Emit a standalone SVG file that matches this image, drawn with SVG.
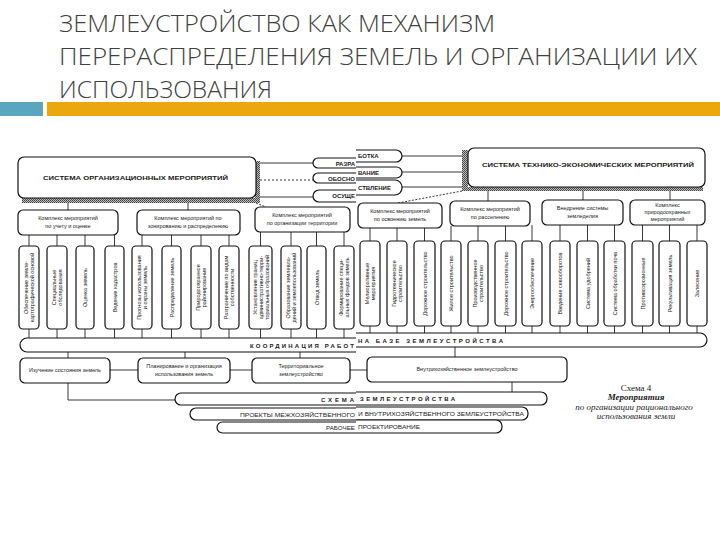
<svg xmlns="http://www.w3.org/2000/svg" width="720" height="540" viewBox="0 0 720 540">
<defs>
<style>
.b{fill:#fff;stroke:#111;stroke-width:1.2}
.c{stroke:#222;stroke-width:0.9;fill:none}
.t{font-family:"Liberation Sans",Arial,sans-serif;font-size:5.5px;fill:#1a1a1a;text-anchor:middle}
.h{font-weight:bold;font-size:6px}
.l{text-anchor:start}
.e{text-anchor:end}
.ttl{font-family:"Open Sans","Liberation Sans",sans-serif;font-size:24px;fill:#404040;font-weight:300}
.cap{font-family:"Liberation Serif","Times New Roman",serif;font-size:9px;fill:#222;text-anchor:middle}
</style>
<pattern id="hatch" patternUnits="userSpaceOnUse" width="2" height="2">
<rect width="2" height="2" fill="#bbb"/>
<rect width="1" height="1" fill="#444"/>
<rect x="1" y="1" width="1" height="1" fill="#555"/>
</pattern>
<clipPath id="cl"><rect x="0" y="0" width="356" height="540"/></clipPath>
<clipPath id="cr"><rect x="356" y="0" width="364" height="540"/></clipPath>
</defs>
<rect width="720" height="540" fill="#fff"/>

<g id="title">
<text class="ttl" x="59" y="32" textLength="436" lengthAdjust="spacingAndGlyphs">ЗЕМЛЕУСТРОЙСТВО КАК МЕХАНИЗМ</text>
<text class="ttl" x="59" y="65" textLength="638" lengthAdjust="spacingAndGlyphs">ПЕРЕРАСПРЕДЕЛЕНИЯ ЗЕМЕЛЬ И ОРГАНИЗАЦИИ ИХ</text>
<text class="ttl" x="59" y="98" textLength="213" lengthAdjust="spacingAndGlyphs">ИСПОЛЬЗОВАНИЯ</text>
<rect x="0" y="102" width="43" height="14" fill="#5aa6c0"/>
<rect x="47" y="102" width="673" height="14" fill="#eba70e"/>
</g>

<g id="connectors">
<line class="c" x1="258" y1="163" x2="313" y2="163"/>
<line class="c" x1="260" y1="180" x2="313" y2="180" stroke-dasharray="2,2"/>
<line class="c" x1="260" y1="197" x2="313" y2="197"/>
<line class="c" x1="402" y1="156" x2="462" y2="156"/>
<line class="c" x1="402" y1="172" x2="462" y2="172"/>
<line class="c" x1="402" y1="187" x2="462" y2="187"/>
<line class="c" x1="68" y1="203" x2="68" y2="210"/>
<line class="c" x1="188" y1="203" x2="188" y2="210"/>
<line class="c" x1="256" y1="203" x2="266" y2="207" stroke-dasharray="2,1.5"/>
<line class="c" x1="462" y1="191" x2="398" y2="203" stroke-dasharray="2,1.5"/>
<line class="c" x1="488" y1="191" x2="488" y2="201"/>
<line class="c" x1="583" y1="191" x2="583" y2="200"/>
<line class="c" x1="670" y1="191" x2="670" y2="200"/>
<path class="c" d="M29 235V246M57 235V246M85 235V246M114.5 235V246M142 235V246M171.5 235V246M201 235V246M229 235V246M260.5 232V246M291 232V246M316.5 232V246M344 232V246"/>
<path class="c" d="M29 329V338M57 329V338M85 329V338M114.5 329V338M142 329V338M171.5 329V338M201 329V338M229 329V338M260.5 329V338M291 329V338M316.5 329V338M344 329V338"/>
<path class="c" d="M370 228V241M397 228V241M424.5 228V241M451 226V241M478 226V241M505.5 226V241M532 225V241M560 225V241M587.5 225V241M614.5 225V241M642.5 225V241M669.5 225V241M697 225V241"/>
<path class="c" d="M370 326V333M397 326V333M424.5 326V333M451 326V333M478 326V333M505.5 326V333M532 326V333M560 326V333M587.5 326V333M614.5 326V333M642.5 326V333M669.5 326V333M697 326V333"/>
<path class="c" d="M68 352V358M185 352V358M300 352V358M455 347V357"/>
<path class="c" d="M110 370H138M230 370H252M350 370H367"/>
<path class="c" d="M68 383V400H175M512 382V392"/>
</g>

<g id="org-system">
<rect x="22" y="198" width="238" height="5" fill="url(#hatch)"/>
<rect x="255" y="161" width="5" height="42" fill="url(#hatch)"/>
<rect class="b" x="18" y="157" width="238" height="41" rx="6"/>
<text class="t h" x="43" y="180" textLength="185" lengthAdjust="spacingAndGlyphs" style="text-anchor:start">СИСТЕМА ОРГАНИЗАЦИОННЫХ МЕРОПРИЯТИЙ</text>
</g>

<g id="tech-system">
<rect x="462" y="150" width="6" height="41" fill="url(#hatch)"/>
<rect x="462" y="187" width="241" height="4" fill="url(#hatch)"/>
<rect class="b" x="468" y="148" width="237" height="39" rx="6"/>
<text class="t h" x="482" y="167" textLength="212" lengthAdjust="spacingAndGlyphs" style="text-anchor:start">СИСТЕМА ТЕХНИКО-ЭКОНОМИЧЕСКИХ МЕРОПРИЯТИЙ</text>
</g>

<g id="pills-left" clip-path="url(#cl)">
<rect class="b" x="313" y="158" width="80" height="10" rx="5"/>
<rect class="b" x="313" y="173" width="80" height="10" rx="5"/>
<rect class="b" x="313" y="190" width="80" height="12" rx="6"/>
<text class="t h e" x="355" y="165.5">РАЗРА</text>
<text class="t h e" x="355" y="180.5">ОБОСНО</text>
<text class="t h e" x="355" y="198">ОСУЩЕ</text>
</g>
<g id="pills-right" clip-path="url(#cr)">
<rect class="b" x="320" y="150" width="82" height="12" rx="6"/>
<rect class="b" x="320" y="167" width="82" height="11" rx="5.5"/>
<rect class="b" x="320" y="180" width="82" height="15" rx="7"/>
<text class="t h l" x="358" y="158">БОТКА</text>
<text class="t h l" x="358" y="174.5">ВАНИЕ</text>
<text class="t h l" x="358" y="189.5">СТВЛЕНИЕ</text>
</g>

<g id="sub-accounting">
<rect class="b" x="18" y="210" width="100" height="25" rx="5"/>
<text class="t" x="68" y="220">Комплекс мероприятий</text>
<text class="t" x="68" y="228">по учету и оценке</text>
</g>
<g id="sub-zoning">
<rect class="b" x="137" y="210" width="103" height="25" rx="5"/>
<text class="t" x="188" y="220">Комплекс мероприятий по</text>
<text class="t" x="188" y="228">зонированию и распределению</text>
</g>
<g id="sub-territory">
<rect class="b" x="255" y="207" width="95" height="25" rx="5"/>
<text class="t" x="302" y="217">Комплекс мероприятий</text>
<text class="t" x="302" y="225">по организации территории</text>
</g>
<g id="sub-development">
<rect class="b" x="358" y="203" width="84" height="25" rx="5"/>
<text class="t" x="400" y="213">Комплекс мероприятий</text>
<text class="t" x="400" y="221">по освоению земель</text>
</g>
<g id="sub-settlement">
<rect class="b" x="450" y="201" width="80" height="25" rx="5"/>
<text class="t" x="490" y="211">Комплекс мероприятий</text>
<text class="t" x="490" y="219">по расселению</text>
</g>
<g id="sub-farming">
<rect class="b" x="542" y="200" width="81" height="25" rx="5"/>
<text class="t" x="582.5" y="210">Внедрение системы</text>
<text class="t" x="582.5" y="218">земледелия</text>
</g>
<g id="sub-nature">
<rect class="b" x="630" y="200" width="75" height="25" rx="5"/>
<text class="t" x="667.5" y="207">Комплекс</text>
<text class="t" x="667.5" y="214">природоохранных</text>
<text class="t" x="667.5" y="221">мероприятий</text>
</g>

<g id="v-left">
<g id="vl1"><rect class="b" x="19" y="246" width="20" height="83" rx="4"/><g transform="translate(29 287.5) rotate(-90)"><text class="t" y="-1">Обеспечение земле-</text><text class="t" y="5">картографической основой</text></g></g>
<g id="vl2"><rect class="b" x="47" y="246" width="20" height="83" rx="4"/><g transform="translate(57 287.5) rotate(-90)"><text class="t" y="-1">Специальные</text><text class="t" y="5">обследования</text></g></g>
<g id="vl3"><rect class="b" x="76" y="246" width="18" height="83" rx="4"/><g transform="translate(85 287.5) rotate(-90)"><text class="t" y="2">Оценка земель</text></g></g>
<g id="vl4"><rect class="b" x="105" y="246" width="19" height="83" rx="4"/><g transform="translate(114.5 287.5) rotate(-90)"><text class="t" y="2">Ведение кадастров</text></g></g>
<g id="vl5"><rect class="b" x="132" y="246" width="20" height="83" rx="4"/><g transform="translate(142 287.5) rotate(-90)"><text class="t" y="-1">Прогнозы использования</text><text class="t" y="5">и охраны земель</text></g></g>
<g id="vl6"><rect class="b" x="162" y="246" width="19" height="83" rx="4"/><g transform="translate(171.5 287.5) rotate(-90)"><text class="t" y="2">Распределение земель</text></g></g>
<g id="vl7"><rect class="b" x="191" y="246" width="20" height="83" rx="4"/><g transform="translate(201 287.5) rotate(-90)"><text class="t" y="-1">Природоохранное</text><text class="t" y="5">районирование</text></g></g>
<g id="vl8"><rect class="b" x="219" y="246" width="20" height="83" rx="4"/><g transform="translate(229 287.5) rotate(-90)"><text class="t" y="-1">Разграничение по видам</text><text class="t" y="5">собственности</text></g></g>
<g id="vl9"><rect class="b" x="249" y="246" width="23" height="83" rx="4"/><g transform="translate(260.5 287.5) rotate(-90)"><text class="t" y="-4">Установление границ</text><text class="t" y="2">административно-терри-</text><text class="t" y="8">ториальных образований</text></g></g>
<g id="vl10"><rect class="b" x="281" y="246" width="20" height="83" rx="4"/><g transform="translate(291 287.5) rotate(-90)"><text class="t" y="-1">Образование землевла-</text><text class="t" y="5">дений и землепользований</text></g></g>
<g id="vl11"><rect class="b" x="307" y="246" width="19" height="83" rx="4"/><g transform="translate(316.5 287.5) rotate(-90)"><text class="t" y="2">Отвод земель</text></g></g>
<g id="vl12"><rect class="b" x="334" y="246" width="20" height="83" rx="4"/><g transform="translate(344 287.5) rotate(-90)"><text class="t" y="-1">Формирование специ-</text><text class="t" y="5">альных фондов земель</text></g></g>
</g>

<g id="v-right">
<g id="vr1"><rect class="b" x="360" y="241" width="20" height="85" rx="4"/><g transform="translate(370 283.5) rotate(-90)"><text class="t" y="-1">Мелиоративные</text><text class="t" y="5">мероприятия</text></g></g>
<g id="vr2"><rect class="b" x="387" y="241" width="20" height="85" rx="4"/><g transform="translate(397 283.5) rotate(-90)"><text class="t" y="-1">Гидротехническое</text><text class="t" y="5">строительство</text></g></g>
<g id="vr3"><rect class="b" x="414" y="241" width="21" height="85" rx="4"/><g transform="translate(424.5 283.5) rotate(-90)"><text class="t" y="2">Дорожное строительство</text></g></g>
<g id="vr4"><rect class="b" x="441" y="241" width="20" height="85" rx="4"/><g transform="translate(451 283.5) rotate(-90)"><text class="t" y="2">Жилое строительство</text></g></g>
<g id="vr5"><rect class="b" x="468" y="241" width="20" height="85" rx="4"/><g transform="translate(478 283.5) rotate(-90)"><text class="t" y="-1">Производственное</text><text class="t" y="5">строительство</text></g></g>
<g id="vr6"><rect class="b" x="495" y="241" width="21" height="85" rx="4"/><g transform="translate(505.5 283.5) rotate(-90)"><text class="t" y="2">Дорожное строительство</text></g></g>
<g id="vr7"><rect class="b" x="522" y="241" width="20" height="85" rx="4"/><g transform="translate(532 283.5) rotate(-90)"><text class="t" y="2">Энергообеспечение</text></g></g>
<g id="vr8"><rect class="b" x="550" y="241" width="20" height="85" rx="4"/><g transform="translate(560 283.5) rotate(-90)"><text class="t" y="2">Введение севооборотов</text></g></g>
<g id="vr9"><rect class="b" x="577" y="241" width="21" height="85" rx="4"/><g transform="translate(587.5 283.5) rotate(-90)"><text class="t" y="2">Система удобрений</text></g></g>
<g id="vr10"><rect class="b" x="604" y="241" width="21" height="85" rx="4"/><g transform="translate(614.5 283.5) rotate(-90)"><text class="t" y="2">Система обработки почв</text></g></g>
<g id="vr11"><rect class="b" x="632" y="241" width="21" height="85" rx="4"/><g transform="translate(642.5 283.5) rotate(-90)"><text class="t" y="2">Противоэрозионные</text></g></g>
<g id="vr12"><rect class="b" x="659" y="241" width="21" height="85" rx="4"/><g transform="translate(669.5 283.5) rotate(-90)"><text class="t" y="2">Рекультивация земель</text></g></g>
<g id="vr13"><rect class="b" x="687" y="241" width="20" height="85" rx="4"/><g transform="translate(697 283.5) rotate(-90)"><text class="t" y="2">Залесение</text></g></g>
</g>

<g id="coord-left" clip-path="url(#cl)">
<rect class="b" x="20" y="338" width="380" height="14" rx="7"/>
<text class="t h l" x="250" y="347.5" textLength="104" lengthAdjust="spacing">КООРДИНАЦИЯ РАБОТ</text>
</g>
<g id="coord-right" clip-path="url(#cr)">
<rect class="b" x="320" y="333" width="387" height="14" rx="7"/>
<text class="t h l" x="358" y="342.5" textLength="145" lengthAdjust="spacing">НА БАЗЕ ЗЕМЛЕУСТРОЙСТВА</text>
</g>

<g id="study">
<rect class="b" x="20" y="358" width="90" height="25" rx="5"/>
<text class="t" x="65" y="372">Изучение состояния земель</text>
</g>
<g id="planning">
<rect class="b" x="138" y="358" width="92" height="25" rx="5"/>
<text class="t" x="184" y="368">Планирование и организация</text>
<text class="t" x="184" y="376">использования земель</text>
</g>
<g id="territorial">
<rect class="b" x="252" y="358" width="98" height="25" rx="5"/>
<text class="t" x="301" y="368">Территориальное</text>
<text class="t" x="301" y="376">землеустройство</text>
</g>
<g id="onfarm">
<rect class="b" x="367" y="357" width="200" height="25" rx="5"/>
<text class="t" x="467" y="371">Внутрихозяйственное землеустройство</text>
</g>

<g id="bars-left" clip-path="url(#cl)">
<rect class="b" x="175" y="393" width="230" height="12" rx="6"/>
<rect class="b" x="190" y="408" width="215" height="12" rx="6"/>
<rect class="b" x="217" y="422" width="190" height="11" rx="5.5"/>
<text class="t h l" x="321" y="401.5" textLength="33" lengthAdjust="spacing">СХЕМА</text>
<text class="t l" x="240" y="416.5" textLength="115" lengthAdjust="spacingAndGlyphs">ПРОЕКТЫ МЕЖХОЗЯЙСТВЕННОГО</text>
<text class="t l" x="326" y="430" textLength="29" lengthAdjust="spacingAndGlyphs">РАБОЧЕЕ</text>
</g>
<g id="bars-right" clip-path="url(#cr)">
<rect class="b" x="320" y="392" width="227" height="13" rx="6"/>
<rect class="b" x="320" y="407" width="208" height="13" rx="6"/>
<rect class="b" x="320" y="420" width="182" height="13" rx="6"/>
<text class="t h l" x="360" y="401" textLength="95" lengthAdjust="spacing">ЗЕМЛЕУСТРОЙСТВА</text>
<text class="t l" x="358" y="415.5" textLength="166" lengthAdjust="spacingAndGlyphs">И ВНУТРИХОЗЯЙСТВЕННОГО ЗЕМЛЕУСТРОЙСТВА</text>
<text class="t l" x="358" y="428.5" textLength="62" lengthAdjust="spacingAndGlyphs">ПРОЕКТИРОВАНИЕ</text>
</g>

<g id="caption">
<text class="cap" x="636" y="391">Схема 4</text>
<text class="cap" x="636" y="400" font-style="italic" font-weight="bold">Мероприятия</text>
<text class="cap" x="634" y="410" font-style="italic">по организации рационального</text>
<text class="cap" x="636" y="419" font-style="italic">использования земли</text>
</g>
</svg>
